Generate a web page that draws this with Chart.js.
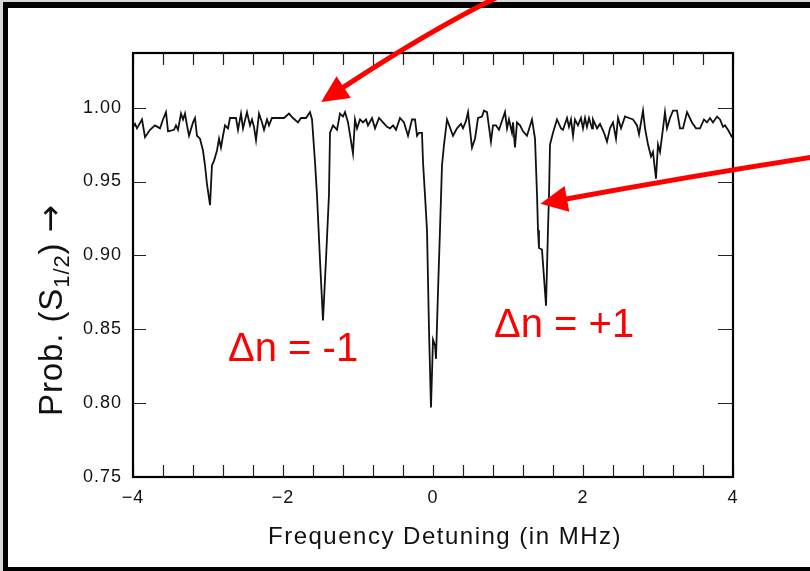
<!DOCTYPE html>
<html>
<head>
<meta charset="utf-8">
<script src="https://cdn.jsdelivr.net/npm/chart.js@4.4.1/dist/chart.umd.min.js"></script>
<style>
html,body{margin:0;padding:0;background:#fff;overflow:hidden}
#wrap{position:relative;width:810px;height:571px}
canvas{display:block}
</style>
</head>
<body>
<div id="wrap"><canvas id="c" width="810" height="571"></canvas></div>
<script>
// ---- data ----
const freq = [
 -4.000,-3.973,-3.947,-3.880,-3.840,-3.773,-3.707,-3.640,-3.600,-3.560,
 -3.533,-3.453,-3.427,-3.400,-3.360,-3.333,-3.307,-3.280,-3.253,-3.200,
 -3.173,-3.147,-3.107,-3.067,-3.040,-3.013,-2.973,-2.947,-2.920,-2.880,
 -2.853,-2.827,-2.800,-2.773,-2.733,-2.707,-2.627,-2.600,-2.560,-2.533,
 -2.480,-2.440,-2.413,-2.387,-2.360,-2.320,-2.280,-2.253,-2.213,-2.187,
 -2.147,-2.053,-1.987,-1.920,-1.867,-1.800,-1.760,-1.693,-1.640,-1.613,
 -1.573,-1.547,-1.507,-1.467,-1.427,-1.387,-1.373,-1.333,-1.280,-1.240,
 -1.200,-1.173,-1.133,-1.067,-1.040,-1.013,-0.973,-0.933,-0.893,-0.867,
 -0.813,-0.773,-0.720,-0.667,-0.613,-0.573,-0.533,-0.493,-0.440,-0.387,
 -0.333,-0.280,-0.240,-0.213,-0.187,-0.147,-0.133,-0.107,-0.080,-0.053,
 -0.027, 0.000, 0.027, 0.040, 0.067, 0.093, 0.120, 0.147, 0.187, 0.267,
  0.320, 0.373, 0.400, 0.440, 0.467, 0.520, 0.560, 0.600, 0.653, 0.680,
  0.720, 0.773, 0.800, 0.840, 0.880, 0.933, 0.960, 0.987, 1.013, 1.053,
  1.067, 1.093, 1.120, 1.160, 1.200, 1.253, 1.320, 1.360, 1.387, 1.400,
  1.413, 1.453, 1.507, 1.533, 1.547, 1.560, 1.600, 1.653, 1.707, 1.733,
  1.787, 1.813, 1.840, 1.867, 1.893, 1.933, 1.973, 2.000, 2.027, 2.053,
  2.080, 2.120, 2.133, 2.187, 2.227, 2.280, 2.320, 2.360, 2.400, 2.440,
  2.467, 2.507, 2.560, 2.613, 2.667, 2.720, 2.747, 2.800, 2.827, 2.867,
  2.907, 2.933, 2.973, 3.000, 3.027, 3.067, 3.093, 3.120, 3.160, 3.200,
  3.253, 3.293, 3.333, 3.387, 3.453, 3.507, 3.560, 3.613, 3.653, 3.693,
  3.733, 3.787, 3.827, 3.867, 3.893, 3.933, 3.987
];
const prob = [
 0.987,0.989,0.986,0.992,0.980,0.985,0.988,0.986,0.992,0.997,
 0.984,0.985,0.988,0.985,0.996,0.992,0.996,0.988,0.981,0.990,
 0.993,0.981,0.979,0.971,0.961,0.948,0.934,0.961,0.964,0.971,
 0.979,0.973,0.981,0.988,0.986,0.993,0.993,0.985,0.996,0.986,
 0.997,0.988,0.992,0.987,0.978,0.996,0.990,0.985,0.992,0.988,
 0.993,0.993,0.993,0.996,0.993,0.990,0.993,0.993,0.997,0.992,
 0.963,0.941,0.897,0.856,0.897,0.941,0.983,0.988,0.985,0.996,
 0.994,0.997,0.990,0.969,0.992,0.986,0.992,0.990,0.992,0.988,
 0.993,0.986,0.993,0.990,0.987,0.986,0.988,0.985,0.993,0.990,
 0.981,0.992,0.992,0.981,0.983,0.983,0.963,0.941,0.917,0.849,
 0.797,0.843,0.839,0.830,0.876,0.917,0.961,0.975,0.992,0.981,
 0.986,0.989,0.986,0.991,0.997,0.973,0.979,0.993,0.994,0.998,
 0.997,0.977,0.988,0.988,0.985,0.993,0.997,0.986,0.992,0.983,
 0.990,0.973,0.990,0.988,0.984,0.981,0.992,0.979,0.941,0.917,
 0.905,0.904,0.866,0.917,0.941,0.975,0.983,0.992,0.986,0.985,
 0.993,0.987,0.992,0.981,0.992,0.988,0.993,0.986,0.993,0.987,
 0.993,0.986,0.992,0.986,0.989,0.983,0.977,0.986,0.990,0.979,
 0.993,0.986,0.994,0.993,0.992,0.988,0.982,0.998,0.986,0.975,
 0.967,0.970,0.952,0.975,0.970,0.986,0.997,0.986,0.993,0.998,
 0.998,0.986,0.986,0.997,0.990,0.986,0.986,0.992,0.990,0.993,
 0.990,0.994,0.992,0.987,0.988,0.985,0.980
];
const xTickValues = [-4,-3.6,-3.2,-2.8,-2.4,-2,-1.6,-1.2,-0.8,-0.4,0,0.4,0.8,1.2,1.6,2,2.4,2.8,3.2,3.6,4];
const xMajorValues = [-4,-2,0,2,4];
const xMajorLabels = ['\u22124','\u22122','0','2','4'];
const yTickValues = [0.75,0.80,0.85,0.90,0.95,1.00];
const yTickLabels = ['0.75','0.80','0.85','0.90','0.95','1.00'];
const xRange = [-4, 4];
const yRange = [0.75, 1.037];
const xTitle = 'Frequency Detuning (in MHz)';
const yTitleParts = ['Prob. (S', '1/2', ') ', '\u2192'];
const noteTexts = ['\u0394n = -1', '\u0394n = +1'];
const noteAnchors = [{x:-2.733, y:0.8283}, {x:0.813, y:0.8445}];
// arrows: tail, control, end (before the head), in axis units
const arrowTails = [{x:0.867, y:1.075}, {x:5.053, y:0.9665}];
const arrowCtrls = [{x:-0.04, y:1.0525}, {x:3.427, y:0.9536}];
const arrowEnds  = [{x:-1.213, y:1.0132}, {x:1.76, y:0.938}];

const FONT = '"Liberation Sans", Arial, Helvetica, sans-serif';
const ARROWFONT = '"DejaVu Sans", sans-serif';
const RED = '#ff0000';

function near(a, b){ return Math.abs(a - b) < 1e-6; }

const decor = {
  id: 'decor',
  beforeDraw(chart){
    const ctx = chart.ctx;
    ctx.save();
    ctx.fillStyle = '#d7d7d7'; ctx.fillRect(0, 0, 810, 571);
    ctx.fillStyle = '#000'; ctx.fillRect(3, 2, 807, 569);
    ctx.fillStyle = '#fff'; ctx.fillRect(8, 8, 802, 559);
    ctx.restore();
    ctx.letterSpacing = '1px';
  },
  afterDatasetsDraw(chart){
    const {ctx, chartArea:a, scales:{x, y}} = chart;
    ctx.save();
    ctx.strokeStyle = '#222'; ctx.lineWidth = 1.2;
    ctx.beginPath();
    xTickValues.forEach(v => {
      const px = Math.round(x.getPixelForValue(v)) + 0.5;
      ctx.moveTo(px, a.bottom); ctx.lineTo(px, a.bottom - 12);
      ctx.moveTo(px, a.top); ctx.lineTo(px, a.top + 12);
    });
    yTickValues.forEach(v => {
      const py = Math.round(y.getPixelForValue(v)) + 0.5;
      ctx.moveTo(a.left, py); ctx.lineTo(a.left + 13, py);
      ctx.moveTo(a.right, py); ctx.lineTo(a.right - 15, py);
    });
    ctx.stroke();
    ctx.strokeStyle = '#000'; ctx.lineWidth = 2.2;
    ctx.strokeRect(a.left, a.top, a.right - a.left, a.bottom - a.top);
    ctx.restore();
  },
  afterDraw(chart){
    const {ctx, chartArea:a, scales:{x, y}} = chart;
    ctx.save();
    // x title
    ctx.letterSpacing = '1.5px';
    ctx.fillStyle = '#111';
    ctx.font = '24px ' + FONT;
    ctx.textAlign = 'center'; ctx.textBaseline = 'middle';
    ctx.fillText(xTitle, (a.left + a.right) / 2 + 12, 537);
    // y title, rotated, with subscript
    ctx.letterSpacing = '0.9px';
    ctx.textAlign = 'left'; ctx.textBaseline = 'alphabetic';
    const fonts = ['33px ' + FONT, '22px ' + FONT, '33px ' + FONT, '33px ' + ARROWFONT];
    const shifts = [0, 7, 0, -1];
    ctx.translate(62, 416);
    ctx.rotate(-Math.PI / 2);
    let cx = 0;
    yTitleParts.forEach((p, i) => {
      ctx.font = fonts[i];
      ctx.fillText(p, cx, shifts[i]);
      cx += ctx.measureText(p).width;
    });
    ctx.restore();

    // red notes
    ctx.save();
    ctx.letterSpacing = '0px';
    ctx.fillStyle = RED;
    ctx.font = '40px ' + FONT;
    ctx.textAlign = 'left'; ctx.textBaseline = 'alphabetic';
    noteTexts.forEach((t, i) => {
      ctx.fillText(t, x.getPixelForValue(noteAnchors[i].x), y.getPixelForValue(noteAnchors[i].y));
    });
    // red arrows
    ctx.strokeStyle = RED; ctx.lineWidth = 5; ctx.lineCap = 'butt';
    arrowTails.forEach((t, i) => {
      const p0 = {x: x.getPixelForValue(t.x), y: y.getPixelForValue(t.y)};
      const c = {x: x.getPixelForValue(arrowCtrls[i].x), y: y.getPixelForValue(arrowCtrls[i].y)};
      const p2 = {x: x.getPixelForValue(arrowEnds[i].x), y: y.getPixelForValue(arrowEnds[i].y)};
      ctx.beginPath(); ctx.moveTo(p0.x, p0.y); ctx.quadraticCurveTo(c.x, c.y, p2.x, p2.y); ctx.stroke();
      const dx = p2.x - c.x, dy = p2.y - c.y, L = Math.hypot(dx, dy), ux = dx / L, uy = dy / L;
      const headLen = 25, half = 13;
      const tx = p2.x + ux * headLen, ty = p2.y + uy * headLen;
      const bx = p2.x - ux * 2, by = p2.y - uy * 2;
      ctx.beginPath();
      ctx.moveTo(tx, ty);
      ctx.lineTo(bx - uy * half, by + ux * half);
      ctx.lineTo(bx + uy * half, by - ux * half);
      ctx.closePath(); ctx.fillStyle = RED; ctx.fill();
    });
    ctx.restore();
    ctx.letterSpacing = '0px';
  }
};

new Chart(document.getElementById('c'), {
  type: 'line',
  data: {
    datasets: [{
      data: freq.map((f, i) => ({x: f, y: prob[i]})),
      borderColor: '#111',
      borderWidth: 1.8,
      pointRadius: 0,
      tension: 0,
      fill: false
    }]
  },
  options: {
    responsive: false,
    animation: false,
    devicePixelRatio: 1,
    layout: {padding: {left: 0, top: 53, right: 77, bottom: 0}},
    plugins: {legend: {display: false}, tooltip: {enabled: false}},
    scales: {
      x: {
        type: 'linear', min: xRange[0], max: xRange[1],
        afterBuildTicks: s => { s.ticks = xTickValues.map(v => ({value: v})); },
        afterFit: s => { s.height = 94; },
        grid: {display: false, drawTicks: false},
        border: {display: false},
        ticks: {
          autoSkip: false, maxRotation: 0, minRotation: 0, padding: 10,
          color: '#111', font: {family: FONT, size: 18},
          callback: v => { const k = xMajorValues.findIndex(m => near(m, v)); return k >= 0 ? xMajorLabels[k] : ''; }
        }
      },
      y: {
        type: 'linear', min: yRange[0], max: yRange[1],
        afterBuildTicks: s => { s.ticks = yTickValues.map(v => ({value: v})); },
        afterFit: s => { s.width = 133; },
        grid: {display: false, drawTicks: false},
        border: {display: false},
        ticks: {
          padding: 11, color: '#111', font: {family: FONT, size: 18},
          callback: v => { const k = yTickValues.findIndex(m => near(m, v)); return k >= 0 ? yTickLabels[k] : ''; }
        }
      }
    }
  },
  plugins: [decor]
});
</script>
</body>
</html>
